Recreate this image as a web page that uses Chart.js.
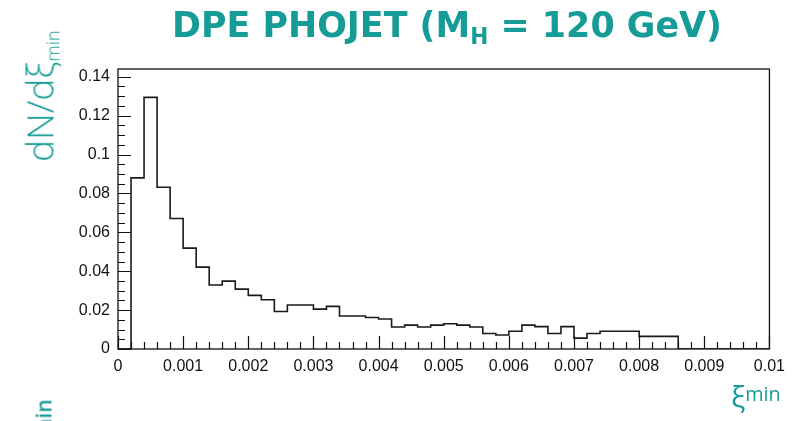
<!DOCTYPE html>
<html><head><meta charset="utf-8">
<script src="https://cdn.jsdelivr.net/npm/chart.js@4/dist/chart.umd.min.js"></script>
<style>
html,body{margin:0;padding:0;background:#fff;overflow:hidden;width:793px;height:421px;}
#wrap{position:relative;width:793px;height:421px;overflow:hidden;}
canvas{position:absolute;left:0;top:0;}
.t{position:absolute;color:#169c96;white-space:nowrap;line-height:1;}
#title{left:172px;top:7px;font-family:'DejaVu Sans';font-weight:bold;font-size:36px;transform-origin:0 0;}
#title sub{font-size:0.62em;vertical-align:-0.32em;line-height:0;}
#ylab{left:39px;top:96px;font-family:'Open Sans';font-weight:300;font-size:37px;transform:translate(-50%,-50%) rotate(-90deg);}
#ylab sub{font-size:0.5em;vertical-align:-0.3em;line-height:0;}
#xlab{left:731px;top:381px;font-family:'Open Sans';font-size:30px;}
#xlab sup{font-size:0.66em;vertical-align:0.3em;line-height:0;}
#frag{left:44px;top:419px;font-family:'Open Sans';font-weight:600;font-size:21px;transform:translate(-50%,-50%) rotate(-90deg);}
</style></head><body>
<div id="wrap">
<canvas id="c" width="793" height="421"></canvas>
<div class="t" id="title">DPE PHOJET (M<sub>H</sub> = 120 GeV)</div>
<div class="t" id="ylab">dN/dξ<sub>min</sub></div>
<div class="t" id="xlab">ξ<sup>min</sup></div>
<div class="t" id="frag">min</div>
</div>
<script>
// bin left edges (width 0.0002)
const binEdges = [0,0.0002,0.0004,0.0006,0.0008,0.001,0.0012,0.0014,0.0016,0.0018,
  0.002,0.0022,0.0024,0.0026,0.0028,0.003,0.0032,0.0034,0.0036,0.0038,
  0.004,0.0042,0.0044,0.0046,0.0048,0.005,0.0052,0.0054,0.0056,0.0058,
  0.006,0.0062,0.0064,0.0066,0.0068,0.007,0.0072,0.0074,0.0076,0.0078,
  0.008,0.0082,0.0084,0.0086,0.0088,0.009,0.0092,0.0094,0.0096,0.0098];
const counts = [0,0.088,0.1294,0.0832,0.0671,0.0519,0.0421,0.0329,0.0349,0.0308,
  0.0276,0.0253,0.0193,0.0226,0.0226,0.0205,0.0219,0.0170,0.0170,0.0162,
  0.0154,0.0113,0.0123,0.0113,0.0123,0.0130,0.0123,0.0113,0.0080,0.0072,
  0.0091,0.0123,0.0115,0.0080,0.0115,0.0056,0.0080,0.0091,0.0091,0.0091,
  0.0065,0.0065,0.0065,0,0,0,0,0,0,0];
const xEnd = 0.01;
const xTickValues = [0,0.001,0.002,0.003,0.004,0.005,0.006,0.007,0.008,0.009,0.01];
const xTickLabels = ['0','0.001','0.002','0.003','0.004','0.005','0.006','0.007','0.008','0.009','0.01'];
const yTickValues = [0,0.02,0.04,0.06,0.08,0.1,0.12,0.14];
const yTickLabels = ['0','0.02','0.04','0.06','0.08','0.1','0.12','0.14'];
const yMax = 0.144;

// fit title to the reference width
(function(){
  const t=document.getElementById('title');
  const w=t.getBoundingClientRect().width;
  t.style.transform='scale('+(550/w)+',1)';
})();

const points = binEdges.map((e,i)=>({x:e,y:counts[i]})).concat([{x:xEnd,y:0}]);

const framePlugin = {
  id:'frame',
  afterDatasetsDraw(chart){
    const {ctx, chartArea:a, scales:{x,y}} = chart;
    ctx.save();
    ctx.strokeStyle='#111';
    ctx.lineWidth=1.3;
    ctx.strokeRect(a.left, a.top, a.right-a.left, a.bottom-a.top);
    ctx.lineWidth=1.2;
    ctx.beginPath();
    for(let k=0;k<=50;k++){
      const v=k*0.0002; const px=Math.round(x.getPixelForValue(v))+0.5;
      const len = (k%5===0)?13:7;
      ctx.moveTo(px,a.bottom); ctx.lineTo(px,a.bottom-len);
    }
    for(let k=0;k<=28;k++){
      const v=k*0.005; const py=Math.round(y.getPixelForValue(v))+0.5;
      const len = (k%4===0)?13:7;
      ctx.moveTo(a.left,py); ctx.lineTo(a.left+len,py);
    }
    ctx.stroke();
    ctx.restore();
  }
};

new Chart(document.getElementById('c'), {
  type:'line',
  data:{datasets:[{data:points, stepped:'before', borderColor:'#1a1a1a', borderWidth:1.6,
    pointRadius:0, fill:false, tension:0}]},
  options:{
    responsive:false, animation:false,
    plugins:{legend:{display:false}, tooltip:{enabled:false}, title:{display:false}},
    layout:{padding:{left:0, top:69, right:23, bottom:0}},
    scales:{
      x:{type:'linear', min:0, max:xEnd,
        grid:{display:false, drawTicks:false}, border:{display:false},
        afterBuildTicks:s=>{s.ticks = xTickValues.map(v=>({value:v}));},
        ticks:{callback:(v,i)=>xTickLabels[i], padding:8, color:'#111', maxRotation:0, autoSkip:false,
          font:{family:'Liberation Sans', size:16}},
        afterFit:s=>{s.height=72;}},
      y:{type:'linear', min:0, max:yMax,
        grid:{display:false, drawTicks:false}, border:{display:false},
        afterBuildTicks:s=>{s.ticks = yTickValues.map(v=>({value:v}));},
        ticks:{callback:(v,i)=>yTickLabels[i], padding:8, color:'#111', autoSkip:false,
          font:{family:'Liberation Sans', size:16}},
        afterFit:s=>{s.width=118;}}
    }
  },
  plugins:[framePlugin]
});
</script>
</body></html>
